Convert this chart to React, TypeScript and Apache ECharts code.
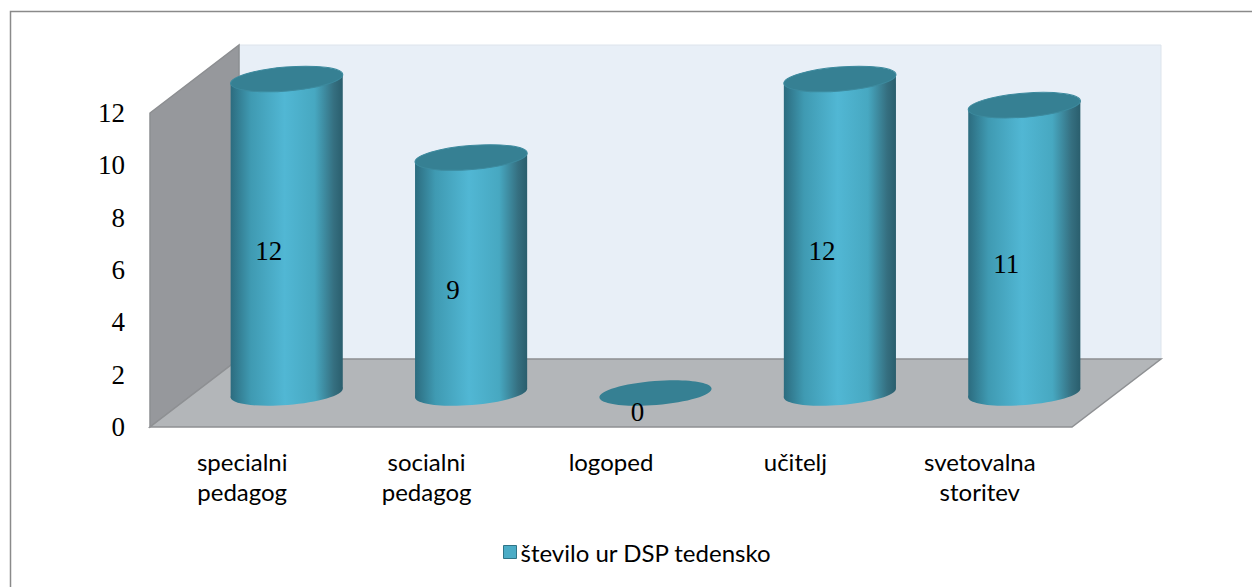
import React, { useEffect, useRef } from "react";
import * as echarts from "echarts";

const categories = ["specialni\npedagog", "socialni\npedagog", "logoped", "učitelj", "svetovalna\nstoritev"];
const values = [12, 9, 0, 12, 11];
const seriesName = "število ur DSP tedensko";
const yMin = 0;
const yMax = 12;
const yInterval = 2;

const DX = 89;
const DY = -68;
const ROT = 0.08;
const RY = 12;

function bodyGradient() {
  return new echarts.graphic.LinearGradient(0, 0, 1, 0, [
    { offset: 0, color: "#2C6C7F" },
    { offset: 0.18, color: "#3F9AB2" },
    { offset: 0.48, color: "#51B7D4" },
    { offset: 0.75, color: "#47A8C1" },
    { offset: 0.92, color: "#356F80" },
    { offset: 1, color: "#2A5E6D" },
  ]);
}

export default function App() {
  const ref = useRef<HTMLDivElement>(null);
  useEffect(() => {
    if (!ref.current) return;
    const chart = echarts.init(ref.current, null, { renderer: "svg" });
    const option: any = {
      animation: false,
      backgroundColor: "#ffffff",
      grid: { left: 150, top: 113, right: 180, bottom: 160 },
      xAxis: {
        type: "category",
        data: categories,
        axisLine: { show: false },
        axisTick: { show: false },
        splitLine: { show: false },
        axisLabel: {
          fontFamily: "Lato",
          fontSize: 24,
          lineHeight: 30,
          color: "#000",
          margin: 19,
        },
      },
      yAxis: {
        type: "value",
        min: yMin,
        max: yMax,
        interval: yInterval,
        axisLine: { show: false },
        axisTick: { show: false },
        splitLine: { show: false },
        axisLabel: {
          fontFamily: "Liberation Serif",
          fontSize: 27,
          color: "#000",
          margin: 25,
        },
      },
      legend: {
        data: [seriesName],
        left: 503,
        top: 540,
        padding: 0,
        icon: "rect",
        itemWidth: 13,
        itemHeight: 13,
        itemGap: 4,
        textStyle: { fontFamily: "Lato", fontSize: 24, color: "#000", padding: [0, 0, 0, -1] },
        itemStyle: { color: "#4BACC6", borderColor: "#2F7487", borderWidth: 1 },
      },
      graphic: [
        {
          type: "rect",
          left: 8,
          top: 9,
          shape: { x: 0, y: 0, width: 1270, height: 620 },
          style: { fill: "none", stroke: "#8A8A8A", lineWidth: 1.5 },
          silent: true,
          z: 100,
        },
      ],
      series: [
        {
          type: "custom",
          name: "walls",
          z: 1,
          silent: true,
          data: [[0, 0]],
          renderItem: (params: any, api: any) => {
            const cs = params.coordSys;
            const x = cs.x, y = cs.y, w = cs.width, h = cs.height;
            return {
              type: "group",
              children: [
                {
                  type: "rect",
                  shape: { x: x + DX, y: y + DY, width: w, height: h },
                  style: { fill: "#E8EFF7", stroke: "#DDE4EC", lineWidth: 1 },
                },
                {
                  type: "polygon",
                  shape: {
                    points: [
                      [x, y],
                      [x + DX, y + DY],
                      [x + DX, y + h + DY],
                      [x, y + h],
                    ],
                  },
                  style: { fill: "#96989C", stroke: "#8C8E91", lineWidth: 1.5 },
                },
                {
                  type: "polygon",
                  shape: {
                    points: [
                      [x, y + h],
                      [x + DX, y + h + DY],
                      [x + w + DX, y + h + DY],
                      [x + w, y + h],
                    ],
                  },
                  style: { fill: "#B3B6B9", stroke: "#8E9093", lineWidth: 1.5 },
                },
              ],
            };
          },
        },
        {
          type: "custom",
          name: seriesName,
          z: 2,
          itemStyle: { color: "#4BACC6" },
          encode: { x: 0, y: 1 },
          data: values.map((v, i) => [i, v]),
          renderItem: (params: any, api: any) => {
            const i = api.value(0);
            const v = api.value(1);
            const topP = api.coord([i, v]);
            const baseP = api.coord([i, 0]);
            const cx = topP[0] + DX / 2;
            const ty = topP[1] + DY / 2;
            const by = baseP[1] + DY / 2;
            const rx = api.size([1, 0])[0] * 0.305;
            const c = Math.cos(ROT), s = Math.sin(ROT);
            const children: any[] = [];
            if (v > 0) {
              children.push({
                type: "ellipse",
                x: cx,
                y: by,
                rotation: ROT,
                shape: { cx: 0, cy: 0, rx, ry: RY },
                style: { fill: bodyGradient() },
              });
              children.push({
                type: "polygon",
                shape: {
                  points: [
                    [cx - rx * c, ty + rx * s],
                    [cx + rx * c, ty - rx * s],
                    [cx + rx * c, by - rx * s],
                    [cx - rx * c, by + rx * s],
                  ],
                },
                style: { fill: bodyGradient() },
              });
              children.push({
                type: "ellipse",
                x: cx,
                y: ty,
                rotation: ROT,
                shape: { cx: 0, cy: 0, rx, ry: RY },
                style: { fill: "#368093", stroke: "#3D8A9E", lineWidth: 1 },
              });
            } else {
              children.push({
                type: "ellipse",
                x: cx,
                y: by,
                rotation: ROT,
                shape: { cx: 0, cy: 0, rx, ry: RY },
                style: { fill: "#368093" },
              });
            }
            children.push({
              type: "text",
              x: cx - 18,
              y: (ty + by) / 2 + (v > 0 ? 15 : 19),
              style: {
                text: String(v),
                fontFamily: "Liberation Serif",
                fontSize: 27,
                fill: "#000",
                align: "center",
                verticalAlign: "middle",
              },
            });
            return { type: "group", children };
          },
        },
      ],
    };
    chart.setOption(option);
    return () => chart.dispose();
  }, []);
  return (
    <div
      ref={ref}
      style={{ position: "fixed", left: 0, top: 0, width: 1252, height: 587 }}
    />
  );
}
